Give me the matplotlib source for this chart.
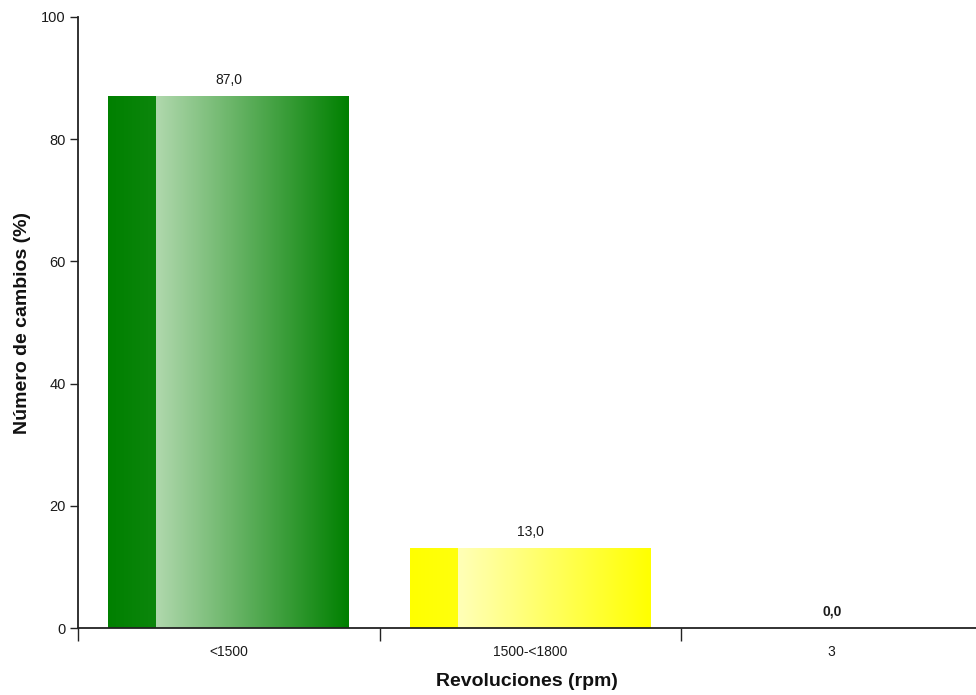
import matplotlib
matplotlib.use("Agg")
import matplotlib.pyplot as plt
import numpy as np
from matplotlib.colors import LinearSegmentedColormap, to_rgb

categories = ["<1500", "1500-<1800", "3"]
values = [87.0, 13.0, 0.0]
value_labels = ["87,0", "13,0", "0,0"]
dark_colors = ["#008000", "#ffff00", "#ffff00"]
light_colors = ["#b0d8ad", "#ffffb8", "#ffffb8"]
y_ticks = [0, 20, 40, 60, 80, 100]

plt.rcParams['font.family'] = ['Liberation Sans', 'DejaVu Sans']

W, H = 976, 695
fig = plt.figure(figsize=(W / 100, H / 100), dpi=100)
left, right, top, bottom = 78, 976, 17, 628
ax = fig.add_axes([left / W, (H - bottom) / H, (right - left) / W, (bottom - top) / H])

band_px = 301.5
x = np.arange(len(categories))
xlim = (-0.5, -0.5 + (right - left) / band_px)

bar_w = 0.8
dark_frac = 0.2
for i, v in enumerate(values):
    x0 = x[i] - bar_w / 2
    x1 = x[i] + bar_w / 2
    xm = x0 + bar_w * dark_frac
    if v <= 0:
        continue
    d = np.array(to_rgb(dark_colors[i]))
    l = np.array(to_rgb(light_colors[i]))
    cm1 = LinearSegmentedColormap.from_list("a", [d, d + (l - d) * 0.07])
    cm2 = LinearSegmentedColormap.from_list("b", [l, d])
    grad = np.linspace(0, 1, 256).reshape(1, -1)
    ax.imshow(grad, cmap=cm1, extent=(x0, xm, 0, v), aspect='auto', zorder=2,
              interpolation='bilinear')
    ax.imshow(grad, cmap=cm2, extent=(xm, x1, 0, v), aspect='auto', zorder=2,
              interpolation='bilinear')

for i, v in enumerate(values):
    ax.annotate(value_labels[i], (x[i], v), xytext=(0, 7), textcoords='offset points',
                ha='center', va='bottom', fontsize=10, color='#1a1a1a',
                fontweight='bold' if v == 0 else 'normal')

for s in ['top', 'right']:
    ax.spines[s].set_visible(False)
for s in ['left', 'bottom']:
    ax.spines[s].set_color('#222222')
    ax.spines[s].set_linewidth(1.3)

ax.set_yticks(y_ticks)
ax.set_yticklabels([str(t) for t in y_ticks])
ax.tick_params(axis='y', length=6, width=1, color='#222222', labelsize=10.5,
               labelcolor='#1a1a1a', pad=3)
ax.set_xticks(x)
ax.set_xticklabels(categories)
ax.tick_params(axis='x', length=0, labelsize=10, labelcolor='#1a1a1a', pad=12)
ax.set_xticks(np.arange(len(categories)) - 0.5, minor=True)
ax.tick_params(axis='x', which='minor', length=9, width=1, color='#222222')

ax.set_xlim(*xlim)
ax.set_ylim(0, 100)

ax.set_xlabel("Revoluciones (rpm)", fontsize=14, fontweight='bold', labelpad=10,
              color='#111111')
ax.set_ylabel("Número de cambios (%)", fontsize=14, fontweight='bold', labelpad=7,
              color='#111111')

fig.savefig("out.png", dpi=100)
